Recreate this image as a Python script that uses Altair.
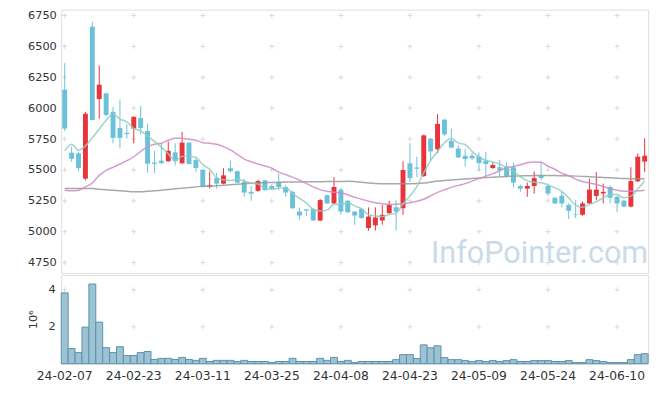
import altair as alt
import pandas as pd

DATES = [
    "24-02-07", "24-02-08", "24-02-13", "24-02-14", "24-02-15", "24-02-16", "24-02-19", "24-02-20",
    "24-02-21", "24-02-22", "24-02-23", "24-02-26", "24-02-27", "24-02-28", "24-02-29",
    "24-03-04", "24-03-05", "24-03-06", "24-03-07", "24-03-08", "24-03-11", "24-03-12", "24-03-13",
    "24-03-14", "24-03-15", "24-03-18", "24-03-19", "24-03-20", "24-03-21", "24-03-22", "24-03-25",
    "24-03-26", "24-03-27", "24-03-28", "24-03-29",
    "24-04-01", "24-04-02", "24-04-03", "24-04-04", "24-04-05", "24-04-08", "24-04-09", "24-04-11",
    "24-04-12", "24-04-15", "24-04-16", "24-04-17", "24-04-18", "24-04-19", "24-04-22", "24-04-23",
    "24-04-24", "24-04-25", "24-04-26", "24-04-29", "24-04-30",
    "24-05-02", "24-05-03", "24-05-07", "24-05-08", "24-05-09", "24-05-10", "24-05-13", "24-05-14",
    "24-05-16", "24-05-17", "24-05-20", "24-05-21", "24-05-22", "24-05-23", "24-05-24", "24-05-27",
    "24-05-28", "24-05-29", "24-05-30", "24-05-31",
    "24-06-03", "24-06-04", "24-06-05", "24-06-07", "24-06-10", "24-06-11", "24-06-12", "24-06-13",
    "24-06-14",
]

OPEN = [6150, 5640, 5635, 5430, 6660, 6075, 6120, 5970, 5840, 5800,
        5835, 5920, 5815, 5560, 5575, 5570, 5642, 5554, 5721, 5580,
        5500, 5362, 5434, 5389, 5514, 5490, 5403, 5323, 5331, 5416,
        5370, 5403, 5362, 5323, 5163, 5180, 5185, 5091, 5296, 5229,
        5341, 5251, 5163, 5185, 5030, 5052, 5091, 5150, 5198, 5190,
        5554, 5520, 5450, 5753, 5668, 5907, 5735, 5673, 5615, 5615,
        5610, 5575, 5516, 5522, 5528, 5522, 5370, 5349, 5370, 5456,
        5370, 5275, 5291, 5217, 5140, 5137, 5229, 5290, 5310, 5362,
        5283, 5251, 5203, 5408, 5568]

CLOSE = [5835, 5590, 5515, 5955, 5905, 6190, 5945, 5760, 5760, 5790,
         5930, 5840, 5550, 5550, 5555, 5655, 5570, 5721, 5548, 5516,
         5362, 5376, 5389, 5456, 5490, 5397, 5317, 5309, 5410, 5336,
         5349, 5362, 5317, 5190, 5131, 5170, 5091, 5256, 5229, 5362,
         5163, 5158, 5131, 5110, 5123, 5115, 5137, 5217, 5163, 5500,
         5434, 5510, 5780, 5650, 5873, 5788, 5681, 5602, 5588, 5594,
         5556, 5548, 5540, 5496, 5450, 5397, 5349, 5370, 5434, 5434,
         5309, 5229, 5229, 5169, 5135, 5229, 5341, 5341, 5323, 5275,
         5229, 5203, 5410, 5607, 5615]

HIGH = [6365, 5690, 5650, 5970, 6700, 6345, 6125, 6010, 6070, 5870,
        5935, 6020, 5875, 5655, 5715, 5729, 5716, 5809, 5725, 5607,
        5500, 5488, 5477, 5514, 5575, 5495, 5429, 5370, 5421, 5420,
        5385, 5469, 5376, 5330, 5195, 5182, 5190, 5265, 5300, 5442,
        5355, 5255, 5165, 5190, 5197, 5197, 5217, 5251, 5256, 5570,
        5716, 5607, 5785, 5760, 5953, 5915, 5833, 5700, 5668, 5640,
        5642, 5647, 5562, 5583, 5562, 5556, 5380, 5397, 5488, 5567,
        5389, 5280, 5323, 5230, 5256, 5245, 5429, 5482, 5389, 5376,
        5290, 5260, 5522, 5634, 5756]

LOW = [5815, 5565, 5490, 5415, 5900, 5915, 5934, 5715, 5675, 5755,
       5715, 5788, 5477, 5474, 5548, 5568, 5536, 5548, 5545, 5482,
       5358, 5349, 5349, 5384, 5477, 5395, 5283, 5251, 5323, 5333,
       5340, 5336, 5283, 5185, 5097, 5129, 5088, 5085, 5225, 5225,
       5137, 5150, 5057, 5105, 5009, 5009, 5057, 5145, 5009, 5137,
       5402, 5442, 5445, 5580, 5636, 5775, 5676, 5594, 5528, 5580,
       5496, 5450, 5508, 5442, 5440, 5357, 5323, 5283, 5309, 5416,
       5290, 5225, 5197, 5102, 5110, 5130, 5225, 5256, 5229, 5229,
       5158, 5198, 5198, 5402, 5482]

VOLUME = [3830000, 820000, 600000, 1980000, 4310000, 2250000, 870000, 600000, 920000, 440000,
          440000, 600000, 660000, 230000, 290000, 290000, 230000, 340000, 230000, 180000,
          290000, 120000, 180000, 180000, 180000, 120000, 180000, 120000, 120000, 120000,
          70000, 120000, 120000, 290000, 120000, 120000, 120000, 290000, 180000, 340000,
          120000, 180000, 60000, 120000, 120000, 120000, 120000, 120000, 220000, 490000,
          490000, 280000, 1020000, 860000, 970000, 330000, 220000, 220000, 170000, 120000,
          170000, 120000, 170000, 120000, 170000, 220000, 120000, 120000, 170000, 170000,
          170000, 120000, 120000, 170000, 60000, 60000, 220000, 170000, 120000, 60000,
          60000, 60000, 220000, 490000, 540000]

MA5 = [5655, 5708, 5660, 5695, 5760, 5831, 5902, 5951, 5912, 5889,
       5837, 5816, 5774, 5732, 5685, 5630, 5576, 5610, 5610, 5602,
       5543, 5505, 5438, 5420, 5415, 5422, 5410, 5394, 5385, 5354,
       5344, 5353, 5355, 5311, 5270, 5234, 5180, 5168, 5175, 5222,
       5220, 5234, 5209, 5185, 5137, 5127, 5123, 5140, 5151, 5226,
       5290, 5365, 5477, 5575, 5649, 5720, 5754, 5719, 5706, 5651,
       5604, 5578, 5565, 5547, 5518, 5486, 5446, 5412, 5400, 5397,
       5379, 5355, 5327, 5274, 5214, 5198, 5221, 5243, 5274, 5302,
       5302, 5274, 5288, 5345, 5413]

MA20 = [5336, 5331, 5336, 5363, 5394, 5456, 5496, 5522, 5548, 5575,
        5607, 5650, 5689, 5708, 5716, 5740, 5756, 5756, 5748, 5740,
        5721, 5716, 5708, 5689, 5662, 5626, 5588, 5566, 5548, 5532,
        5514, 5482, 5462, 5442, 5418, 5390, 5363, 5341, 5327, 5319,
        5315, 5299, 5279, 5263, 5247, 5235, 5227, 5221, 5223, 5227,
        5235, 5247, 5263, 5291, 5319, 5339, 5359, 5375, 5389, 5410,
        5430, 5450, 5470, 5494, 5518, 5528, 5542, 5558, 5564, 5562,
        5530, 5506, 5474, 5454, 5426, 5406, 5394, 5382, 5366, 5350,
        5335, 5328, 5328, 5331, 5336]

MA_LONG = [5349, 5349, 5349, 5349, 5349, 5344, 5339, 5335, 5331, 5327,
           5323, 5323, 5327, 5331, 5336, 5341, 5347, 5352, 5357, 5363,
           5367, 5369, 5372, 5376, 5380, 5384, 5388, 5392, 5394, 5397,
           5398, 5400, 5402, 5402, 5403, 5404, 5404, 5405, 5406, 5406,
           5406, 5408, 5406, 5400, 5394, 5390, 5389, 5389, 5389, 5389,
           5389, 5390, 5394, 5402, 5410, 5414, 5418, 5422, 5426, 5430,
           5434, 5438, 5441, 5444, 5447, 5450, 5452, 5453, 5455, 5456,
           5456, 5455, 5453, 5452, 5450, 5448, 5445, 5442, 5439, 5436,
           5433, 5430, 5429, 5429, 5429]

X_LABELS = ["24-02-07", "24-02-23", "24-03-11", "24-03-25", "24-04-08",
            "24-04-23", "24-05-09", "24-05-24", "24-06-10"]
PRICE_TICKS = [4750, 5000, 5250, 5500, 5750, 6000, 6250, 6500, 6750]
VOL_TICKS = [2000000, 4000000]

FONT = "DejaVu Sans"
RED = "#e8353b"
BLUE = "#6cc1da"
W = 595

ohlc = pd.DataFrame({"date": DATES, "open": OPEN, "high": HIGH, "low": LOW,
                     "close": CLOSE, "volume": VOLUME})
ohlc["dir"] = ["up" if c >= o else "down" for o, c in zip(OPEN, CLOSE)]

grid_top = pd.DataFrame([(d, v) for d in X_LABELS for v in PRICE_TICKS], columns=["date", "value"])
grid_bot = pd.DataFrame([(d, v) for d in X_LABELS for v in VOL_TICKS], columns=["date", "value"])

xs = alt.Scale(type="band", domain=DATES, paddingInner=0, paddingOuter=0)
ys = alt.Scale(domain=[4666, 6798], nice=False, zero=False)
vs = alt.Scale(domain=[0, 4800000], nice=False)
cs = alt.Scale(domain=["up", "down"], range=[RED, BLUE])

x_none = alt.X("date:O", scale=xs, axis=None)
y_axis = alt.Axis(values=PRICE_TICKS, format="d", labelOverlap=False, title=None, grid=False,
                  ticks=False, domain=False, labelPadding=5, labelFont=FONT, labelFontSize=11.5,
                  labelColor="#333333", tickCount=9)


def py(field):
    return alt.Y(field, scale=ys, axis=y_axis)


cross = "M-1,0L1,0M0,-1L0,1"

g1 = alt.Chart(grid_top).mark_point(shape=cross, size=25, filled=False, stroke="#d9d9d9",
                                    strokeWidth=1, opacity=1).encode(
    x=x_none, y=py("value:Q"))

wicks = alt.Chart(ohlc).mark_rule(strokeWidth=1).encode(
    x=x_none, y=py("low:Q"), y2="high:Q",
    color=alt.Color("dir:N", scale=cs, legend=None))

bodies = alt.Chart(ohlc).mark_bar(size=5).encode(
    x=x_none, y=py("open:Q"), y2="close:Q",
    color=alt.Color("dir:N", scale=cs, legend=None))


def ma_layer(values, color):
    df = pd.DataFrame({"date": DATES, "value": values})
    return alt.Chart(df).mark_line(strokeWidth=1.5, opacity=0.85, color=color,
                                   interpolate="monotone").encode(
        x=x_none, y=py("value:Q"))


line_long = ma_layer(MA_LONG, "#999999")
line_20 = ma_layer(MA20, "#cc8cc8")
line_5 = ma_layer(MA5, "#8dcdc1")

mark_wm = alt.Chart(pd.DataFrame({"t": ["InfoPointer.com"]})).mark_text(
    font="Liberation Sans Narrow, Roboto, sans-serif", fontSize=31, color="#c9dbe6",
    align="right", baseline="alphabetic").encode(
    text="t:N", x=alt.value(595), y=alt.value(257))

top = alt.layer(g1, mark_wm, wicks, bodies, line_long, line_20, line_5).properties(width=W, height=267)

x_axis = alt.Axis(values=X_LABELS, labelAngle=0, ticks=False, domain=False, grid=False, title=None,
                  labelPadding=6, labelFont=FONT, labelFontSize=12.5, labelColor="#333333",
                  labelOverlap=False)
x_bot = alt.X("date:O", scale=xs, axis=x_axis)
v_axis = alt.Axis(values=VOL_TICKS, labelExpr="datum.value / 1000000", title="10\u2076",
                  grid=False, ticks=False, domain=False, labelPadding=6, labelFont=FONT,
                  labelFontSize=11.5, labelColor="#333333", titleFont=FONT, titleFontSize=11.5,
                  titleFontWeight="normal", titleColor="#333333", titlePadding=10,
                  labelOverlap=False)

g2 = alt.Chart(grid_bot).mark_point(shape=cross, size=25, filled=False, stroke="#d9d9d9",
                                    strokeWidth=1, opacity=1).encode(
    x=x_bot, y=alt.Y("value:Q", scale=vs, axis=v_axis))

vol = alt.Chart(ohlc).mark_bar(color="#9cc2d3", stroke="#5b92ab", strokeWidth=1).encode(
    x=x_bot, y=alt.Y("volume:Q", scale=vs, axis=v_axis))

bottom = alt.layer(g2, vol).properties(width=W, height=90)

chart = alt.vconcat(top, bottom, spacing=0).properties(
    padding={"left": 19, "top": -2, "right": 8, "bottom": 5}
).configure_view(stroke="#e4e4e4").configure(background="white")

chart.save("out.html", embed_options={"renderer": "svg", "actions": False})
